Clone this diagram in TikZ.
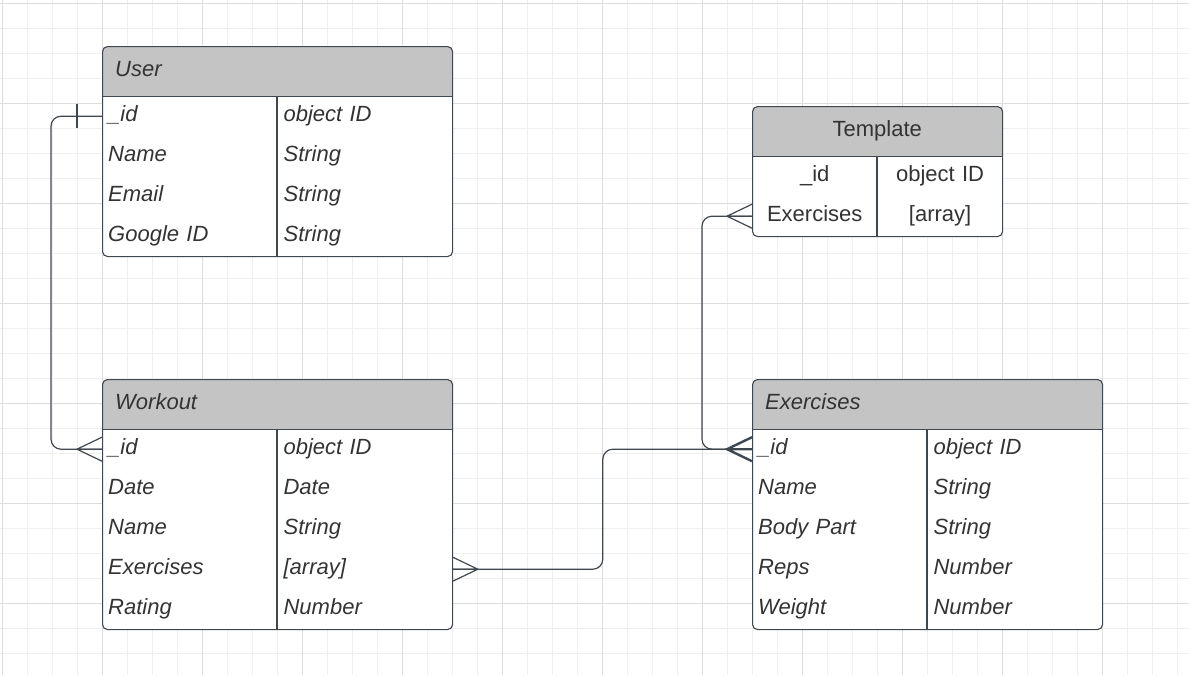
\documentclass[tikz,border=0pt]{standalone}
\usepackage{fontspec}
\setmainfont{Liberation Sans}
\usepackage{tikz}
\usetikzlibrary{calc}
\definecolor{headgray}{HTML}{C4C4C4}
\definecolor{linegray}{HTML}{41474F}
\definecolor{textgray}{HTML}{333333}
\definecolor{gridminor}{HTML}{EFEFEF}
\definecolor{gridmajor}{HTML}{DDDDDD}
\def\crow#1#2#3{\draw[#3] ($(#1)+(0,-12)$) -- ($(#1)+(#2,0)$) -- ($(#1)+(0,12)$) (#1) -- ($(#1)+(#2,0)$)}
\tikzstyle{entity}=[draw=linegray,line width=1.1pt,fill=white,rounded corners=5pt,inner sep=0pt,anchor=north west,
  path picture={\fill[headgray,sharp corners] (path picture bounding box.north west) rectangle ([yshift=-50pt]path picture bounding box.north east);
    \draw[linegray,line width=1.1pt] ([yshift=-50pt]path picture bounding box.north west) -- ([yshift=-50pt]path picture bounding box.north east);}]
\tikzstyle{cell}=[anchor=north west,inner xsep=6pt,inner ysep=0pt,minimum height=40pt,text height=15pt,text depth=5pt,
  align=left,text=textgray,font=\fontsize{22}{26}\selectfont\itshape]
\tikzstyle{keycell}=[cell,text width=163pt]
\tikzstyle{headcell}=[cell,minimum height=50pt,inner xsep=13pt]
\tikzstyle{plaincell}=[cell,align=center,font=\fontsize{22}{26}\selectfont]
\tikzstyle{plainhead}=[headcell,align=center,font=\fontsize{22}{26}\selectfont]
\tikzstyle{rule}=[draw=linegray,line width=1.1pt]
\tikzstyle{link}=[draw=linegray,line width=1.2pt,rounded corners=10pt]
\tikzstyle{foot}=[draw=linegray,line width=1.2pt]
\tikzstyle{boldfoot}=[foot,line width=2.4pt]
\begin{document}
\begin{tikzpicture}[x=1pt,y=-1pt]
  \useasboundingbox (0,0) rectangle (1189,675);
  % grid
  \foreach \x in {2,27,...,1189} \draw[gridminor,line width=0.8pt] (\x,0) -- (\x,675);
  \foreach \y in {3,28,...,675} \draw[gridminor,line width=0.8pt] (0,\y) -- (1189,\y);
  \foreach \x in {2,102,...,1189} \draw[gridmajor,line width=0.8pt] (\x,0) -- (\x,675);
  \foreach \y in {3,103,...,675} \draw[gridmajor,line width=0.8pt] (0,\y) -- (1189,\y);

  % User
  \node[entity,minimum width=350pt,minimum height=210pt] (user) at (102,46) {};
  \node[headcell,text width=324pt] (user-h) at (user.north west) {User};
  \draw[rule] ([xshift=175pt,yshift=-50pt]user.north west) -- ([xshift=175pt]user.south west);
  \foreach \k/\t [count=\i] in {\_id/object ID,Name/String,Email/String,Google ID/String}{
    \node[keycell] (user-k\i) at ($(user.north west)+(0,10+40*\i)$) {\k};
    \node[keycell] (user-t\i) at (user-k\i.north east) {\t};
  }

  % Template
  \node[entity,minimum width=250pt,minimum height=130pt] (template) at (752,106) {};
  \node[plainhead,text width=224pt] (template-h) at (template.north west) {Template};
  \draw[rule] ([xshift=125pt,yshift=-50pt]template.north west) -- ([xshift=125pt]template.south west);
  \foreach \k/\t [count=\i] in {\_id/object ID,Exercises/[array]}{
    \node[plaincell,text width=113pt] (template-k\i) at ($(template.north west)+(0,10+40*\i)$) {\k};
    \node[plaincell,text width=113pt] (template-t\i) at (template-k\i.north east) {\t};
  }

  % Workout
  \node[entity,minimum width=350pt,minimum height=250pt] (workout) at (102,379) {};
  \node[headcell,text width=324pt] (workout-h) at (workout.north west) {Workout};
  \draw[rule] ([xshift=175pt,yshift=-50pt]workout.north west) -- ([xshift=175pt]workout.south west);
  \foreach \k/\t [count=\i] in {\_id/object ID,Date/Date,Name/String,Exercises/[array],Rating/Number}{
    \node[keycell] (workout-k\i) at ($(workout.north west)+(0,10+40*\i)$) {\k};
    \node[keycell] (workout-t\i) at (workout-k\i.north east) {\t};
  }

  % Exercises
  \node[entity,minimum width=350pt,minimum height=250pt] (exercises) at (752,379) {};
  \node[headcell,text width=324pt] (exercises-h) at (exercises.north west) {Exercises};
  \draw[rule] ([xshift=175pt,yshift=-50pt]exercises.north west) -- ([xshift=175pt]exercises.south west);
  \foreach \k/\t [count=\i] in {\_id/object ID,Name/String,Body Part/String,Reps/Number,Weight/Number}{
    \node[keycell] (exercises-k\i) at ($(exercises.north west)+(0,10+40*\i)$) {\k};
    \node[keycell] (exercises-t\i) at (exercises-k\i.north east) {\t};
  }

  % relations
  \draw[link] (user-k1.west) -- ++(-51,0) |- (workout-k1.west);
  \draw[foot] ($(user-k1.west)+(-25,-12)$) -- ($(user-k1.west)+(-25,12)$);
  \crow{workout-k1.west}{-25}{foot};
  \draw[link] (workout-t4.east) -- ++(150,0) |- (exercises-k1.west);
  \crow{workout-t4.east}{25}{foot};
  \draw[link] (template-k2.west) -- ++(-50,0) |- (exercises-k1.west);
  \crow{template-k2.west}{-25}{foot};
  \crow{exercises-k1.west}{-25}{boldfoot};
\end{tikzpicture}
\end{document}
